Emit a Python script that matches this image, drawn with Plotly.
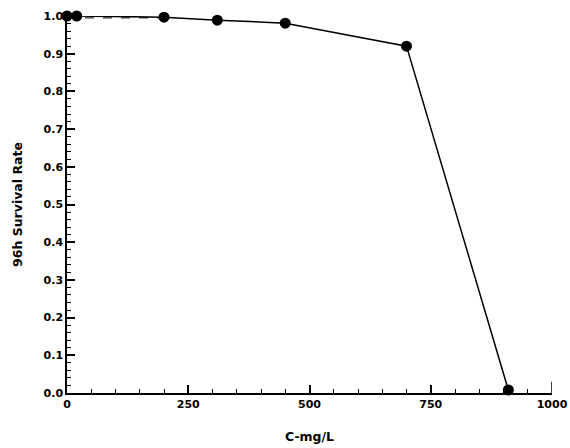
import plotly.graph_objects as go

conc = [0, 20, 200, 310, 450, 700, 910]
survival = [1.0, 1.0, 0.997, 0.989, 0.981, 0.920, 0.008]

ref_x = [0, 200]
ref_y = [0.995, 0.995]

x_ticks = [0, 250, 500, 750, 1000]
y_ticks = [0.0, 0.1, 0.2, 0.3, 0.4, 0.5, 0.6, 0.7, 0.8, 0.9, 1.0]

fig = go.Figure()
fig.add_trace(go.Scatter(x=ref_x, y=ref_y, mode="lines",
                         line=dict(color="black", width=1, dash="dash"),
                         hoverinfo="skip", cliponaxis=False))
fig.add_trace(go.Scatter(x=conc, y=survival, mode="lines+markers",
                         line=dict(color="black", width=1.5),
                         marker=dict(color="black", size=11),
                         cliponaxis=False))

tickfont = dict(family="DejaVu Sans", size=11, color="black", weight="bold")
titlefont = dict(family="DejaVu Sans", size=12.5, color="black", weight="bold")
fig.update_layout(
    width=570, height=448,
    margin=dict(l=67, r=18, t=16, b=55, autoexpand=False),
    plot_bgcolor="white", paper_bgcolor="white",
    showlegend=False,
    xaxis=dict(range=[0, 1000], tickvals=x_ticks, ticktext=[str(v) for v in x_ticks],
               showgrid=False, zeroline=False, showline=True, linecolor="black", linewidth=1.5,
               ticks="inside", ticklen=8, tickwidth=1.5, tickcolor="black",
               minor=dict(dtick=50, ticks="inside", ticklen=4, tickwidth=1, tickcolor="black"),
               tickfont=tickfont, automargin=False,
               title=dict(text="C-mg/L", font=titlefont, standoff=22)),
    yaxis=dict(range=[0, 1.0], tickvals=y_ticks, ticktext=["%.1f" % v for v in y_ticks],
               showgrid=False, zeroline=False, showline=True, linecolor="black", linewidth=1.5,
               ticks="inside", ticklen=8, tickwidth=1.5, tickcolor="black",
               minor=dict(dtick=0.02, ticks="inside", ticklen=4, tickwidth=1, tickcolor="black"),
               tickfont=tickfont, automargin=False,
               title=dict(text="96h Survival Rate", font=titlefont, standoff=18)),
)
fig.add_shape(type="line", xref="x", yref="paper", x0=1000, x1=1000, y0=0, y1=0.03,
              line=dict(color="black", width=1.5))
fig.write_html("out.html", config={"displayModeBar": False},
               post_script="document.body.style.margin='0';")
